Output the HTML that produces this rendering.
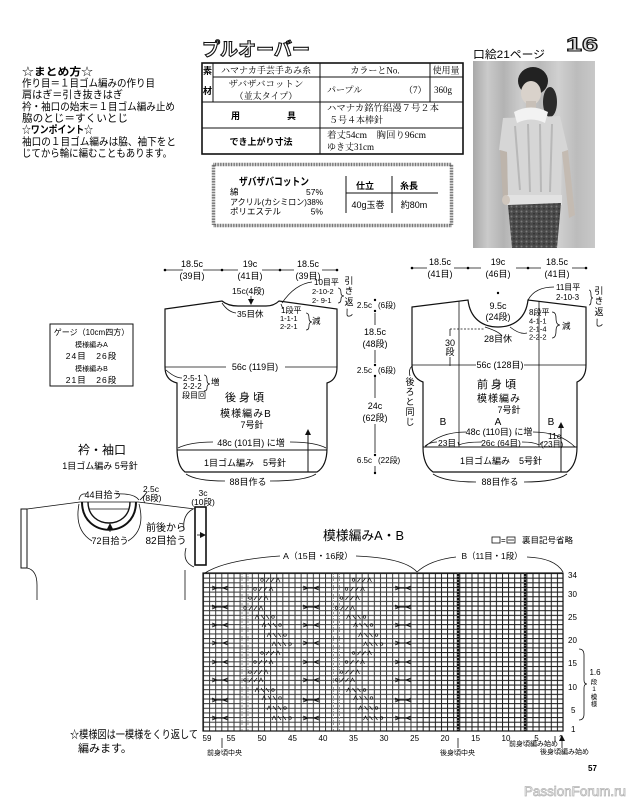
<!DOCTYPE html>
<html><head><meta charset="utf-8"><style>
html,body{margin:0;padding:0;background:#fff;}
svg{display:block;}
text{font-family:"Liberation Sans","Noto Sans CJK JP",sans-serif;}
.m{font-family:"Liberation Serif","Noto Serif CJK SC",serif;}
.b{font-weight:bold;}
</style></head><body>
<svg width="628" height="800" viewBox="0 0 628 800" xmlns="http://www.w3.org/2000/svg">
<defs>
<marker id="ah" markerWidth="6" markerHeight="6" refX="3" refY="3" orient="auto" markerUnits="userSpaceOnUse"><path d="M0,0 L6,3 L0,6 Z" fill="#111"/></marker>
<pattern id="gA" x="203" y="573" width="6.1017" height="4.6471" patternUnits="userSpaceOnUse"><path d="M0.5,0 V4.6471 M0,0.5 H6.1017" stroke="#3a3a3a" stroke-width="1"/></pattern>
<pattern id="gB" x="203" y="573" width="6.1017" height="4.6471" patternUnits="userSpaceOnUse"><path d="M0.5,0 V4.6471 M0,0.5 H6.1017" stroke="#1a1a1a" stroke-width="1"/></pattern>
<linearGradient id="cur" x1="0" y1="0" x2="1" y2="0">
<stop offset="0" stop-color="#a9a9a9"/><stop offset="0.12" stop-color="#cacaca"/><stop offset="0.25" stop-color="#b3b3b3"/><stop offset="0.4" stop-color="#cdcdcd"/><stop offset="0.55" stop-color="#bababa"/><stop offset="0.7" stop-color="#d0d0d0"/><stop offset="0.85" stop-color="#bcbcbc"/><stop offset="1" stop-color="#c8c8c8"/>
</linearGradient>
<pattern id="sk" width="5" height="5" patternUnits="userSpaceOnUse"><rect width="5" height="5" fill="#4a4a4a"/><circle cx="1.5" cy="1.5" r="1" fill="#7a7a7a"/><circle cx="4" cy="3.8" r="0.8" fill="#2a2a2a"/></pattern>
<path id="cx" d="M-8,0H8M-8,-2L-3,0L-8,2M8,-2L3,0L8,2" stroke="#111" stroke-width="0.9" fill="none"/>
<g id="l1" stroke="#111" stroke-width="0.7" fill="none"><circle cx="2" cy="0" r="1.3"/><path d="M6,2L9,-2M11,2L14,-2M16,2L18,-2L20,2"/></g>
<g id="l2" stroke="#111" stroke-width="0.7" fill="none"><path d="M0,2L2,-2L4,2M6,-2L9,2M11,-2L14,2"/><circle cx="18" cy="0" r="1.3"/></g>
</defs>

<!-- top-left notes -->
<g font-size="10.5">
<text x="22" y="75" textLength="71" lengthAdjust="spacingAndGlyphs">☆<tspan class="b">まとめ方</tspan>☆</text>
<text x="22" y="86.5" textLength="133" lengthAdjust="spacingAndGlyphs">作り目＝１目ゴム編みの作り目</text>
<text x="22" y="98" textLength="101" lengthAdjust="spacingAndGlyphs">肩はぎ＝引き抜きはぎ</text>
<text x="22" y="110" textLength="153" lengthAdjust="spacingAndGlyphs">衿・袖口の始末＝１目ゴム編み止め</text>
<text x="22" y="121.5" textLength="106" lengthAdjust="spacingAndGlyphs">脇のとじ＝すくいとじ</text>
<text x="22" y="133" textLength="71" lengthAdjust="spacingAndGlyphs">☆<tspan class="b">ワンポイント</tspan>☆</text>
<text x="22" y="145" textLength="154" lengthAdjust="spacingAndGlyphs">袖口の１目ゴム編みは脇、袖下をと</text>
<text x="22" y="156.5" textLength="150" lengthAdjust="spacingAndGlyphs">じてから輪に編むこともあります。</text>
</g>

<!-- title -->
<text x="202" y="56" font-size="18.5" font-weight="bold" style="fill:#fff" stroke="#111" stroke-width="1.1" textLength="108" lengthAdjust="spacingAndGlyphs">プルオーバー</text>

<!-- material table -->
<g stroke="#111" fill="none">
<rect x="202" y="63" width="261" height="91" stroke-width="1.6"/>
<path d="M213,77H463 M202,102H463 M202,128H463" stroke-width="1"/>
<path d="M213,63V102 M320,63V154 M430,63V102" stroke-width="1"/>
</g>
<g font-size="9" class="m">
<text class="m" x="266" y="73.5" text-anchor="middle" textLength="90" lengthAdjust="spacingAndGlyphs">ハマナカ手芸手あみ糸</text>
<text class="m" x="375" y="73.5" text-anchor="middle">カラーとNo.</text>
<text class="m" x="446" y="73.5" text-anchor="middle">使用量</text>
<text x="207.5" y="74" text-anchor="middle" class="b">素</text>
<text x="207.5" y="94" text-anchor="middle" class="b">材</text>
<text class="m" x="266" y="87" text-anchor="middle" textLength="75" lengthAdjust="spacingAndGlyphs">ザバザバコットン</text>
<text class="m" x="266" y="99" text-anchor="middle">（並太タイプ）</text>
<text class="m" x="327" y="93">パープル</text>
<text class="m" x="404" y="93">（7）</text>
<text class="m" x="434" y="93">360g</text>
<text x="231" y="119" class="b">用</text>
<text x="287" y="119" class="b">具</text>
<text class="m" x="327" y="111" textLength="112" lengthAdjust="spacingAndGlyphs">ハマナカ銘竹絽漫７号２本</text>
<text class="m" x="329" y="123">５号４本棒針</text>
<text x="261" y="145" text-anchor="middle" class="b">でき上がり寸法</text>
<text class="m" x="327" y="138" textLength="99" lengthAdjust="spacingAndGlyphs">着丈54cm　胸回り96cm</text>
<text class="m" x="327" y="150">ゆき丈31cm</text>
</g>

<!-- yarn box -->
<rect x="213.5" y="164.5" width="238" height="61" fill="none" stroke="#555" stroke-width="3.5" stroke-dasharray="0.8 0.8"/>
<text x="239" y="185" font-size="10.5" class="b" textLength="70" lengthAdjust="spacingAndGlyphs">ザバザバコットン</text>
<g font-size="8.5">
<text x="230" y="195">綿</text><text x="323" y="195" text-anchor="end">57%</text>
<text x="230" y="205" textLength="93" lengthAdjust="spacingAndGlyphs">アクリル(カシミロン)38%</text>
<text x="230" y="214.5">ポリエステル</text><text x="323" y="214.5" text-anchor="end">5%</text>
</g>
<path d="M346,176V213 M392,176V213 M346,193H438" stroke="#111" stroke-width="1"/>
<g font-size="9">
<text x="365" y="189" text-anchor="middle" class="b">仕立</text>
<text x="409" y="189" text-anchor="middle" class="b">糸長</text>
<text x="368" y="208" text-anchor="middle">40g玉巻</text>
<text x="414" y="208" text-anchor="middle">約80m</text>
</g>

<!-- photo header -->
<text x="473" y="58" font-size="11" textLength="72" lengthAdjust="spacingAndGlyphs">口絵21ページ</text>
<text x="566" y="51" font-size="19" font-weight="bold" style="fill:#d8d8d8" stroke="#111" stroke-width="1" textLength="32" lengthAdjust="spacingAndGlyphs">16</text>

<!-- photo -->
<rect x="473" y="61" width="122" height="187" fill="url(#cur)"/>
<ellipse cx="550" cy="102" rx="7" ry="15" fill="#2b2b2b"/>
<ellipse cx="533" cy="81" rx="15" ry="14" fill="#222"/>
<ellipse cx="531" cy="93" rx="10" ry="12" fill="#d9d2cb"/>
<rect x="526" y="101" width="10" height="12" fill="#c8c0b8"/>
<path d="M503,118 L560,116 L568,150 L562,152 L561,200 L508,202 L507,152 L499,150 Z" fill="#d6d6d6"/>
<path d="M515,126 L520,190 M528,124 L530,192 M540,124 L541,192 M552,124 L550,192" stroke="#b8b8b8" stroke-width="2" fill="none"/>
<path d="M500,150 L507,152 L508,198 L503,200 Z" fill="#bdb4ab"/>
<path d="M562,152 L568,150 L575,215 L569,218 Z" fill="#c4bbb2"/>
<path d="M514,112 Q531,103 548,112 L545,123 Q531,116 517,123 Z" fill="#f2f2f2"/>
<rect x="507" y="195" width="55" height="10" fill="#e2e2e2"/>
<path d="M508,205 L561,203 L557,248 L512,248 Z" fill="url(#sk)"/>
<ellipse cx="506" cy="200" rx="4" ry="5" fill="#cfc6bd"/>

<!-- back schematic -->
<g stroke="#111" fill="none" stroke-width="1.2">
<path d="M165,309 L222,301 Q228,306 238,306 L266,306 Q274,306 279,301 L337,309 L337,367 Q337,380 327,383 L327,448 Q327,466 317,472 L185,472 Q177,466 177,448 L177,383 Q165,380 165,367 Z"/>
<path d="M177,450 H327" stroke-width="1"/>
</g>
<g stroke="#111" fill="none" stroke-width="0.8">
<path d="M165,270 H183 M203,270 H238 M262,270 H294 M322,270 H337"/>
<path d="M165,367 H226 M285,367 H337"/>
<path d="M178,448 Q190,442 213,442 M290,442 Q315,442 326,448"/>
<path d="M186,474 Q196,481 225,481 M270,481 Q305,481 316,474"/>
<path d="M222,303 Q228,312 236,313"/>
<path d="M282,303 Q295,284 312,282"/>
<path d="M281,304 L283,309"/>
<path d="M166,370 Q175,378 182,378"/>
<path d="M375,300 V301 M375,313 V325 M375,350 V363 M375,377 V398 M375,424 V453 M375,466 V473"/>
<path d="M338,288 Q341,288 341,293 Q341,296 344,296 Q341,296 341,299 Q341,303 338,303"/>
<path d="M306,313 Q309,313 309,318 Q309,322 312,322 Q309,322 309,326 Q309,330 306,330"/>
<path d="M204,375 Q207,375 207,380 Q207,384 210,384 Q207,384 207,388 Q207,391 204,391"/>
</g>
<circle cx="165" cy="270" r="1.3"/><circle cx="222" cy="270" r="1.3"/><circle cx="280" cy="270" r="1.3"/><circle cx="337" cy="270" r="1.3"/>
<circle cx="375" cy="300" r="1.2"/><circle cx="375" cy="311" r="1.2"/><circle cx="375" cy="365" r="1.2"/><circle cx="375" cy="376" r="1.2"/><circle cx="375" cy="455" r="1.2"/><circle cx="375" cy="473" r="1.2"/>
<path d="M251,296 V302" stroke="#111" stroke-width="0.8" marker-end="url(#ah)"/>
<path d="M308,472 V432" stroke="#111" stroke-width="1" marker-end="url(#ah)"/>
<g font-size="9">
<text x="192" y="267" text-anchor="middle">18.5c</text><text x="192" y="279" text-anchor="middle">(39目)</text>
<text x="250" y="267" text-anchor="middle">19c</text><text x="250" y="279" text-anchor="middle">(41目)</text>
<text x="308" y="267" text-anchor="middle">18.5c</text><text x="308" y="279" text-anchor="middle">(39目)</text>
<text x="232" y="294" font-size="8.5">15c(4段)</text>
<text x="237" y="317" font-size="8.5">35目休</text>
<text x="314" y="285" font-size="8">10目平</text>
<text x="312" y="294" font-size="7.5">2-10-2</text>
<text x="312" y="303" font-size="7.5">2- 9-1</text>
<text x="349" y="284" font-size="9" text-anchor="middle">引</text>
<text x="349" y="294" font-size="9" text-anchor="middle">き</text>
<text x="349" y="305" font-size="9" text-anchor="middle">返</text>
<text x="349" y="316" font-size="9" text-anchor="middle">し</text>
<text x="281" y="313" font-size="8">1段平</text>
<text x="280" y="321" font-size="7.5">1-1-1</text>
<text x="280" y="329" font-size="7.5">2-2-1</text>
<text x="312" y="324" font-size="8.5">減</text>
<text x="255" y="370" text-anchor="middle">56c (119目)</text>
<text x="183" y="381" font-size="8">2-5-1</text>
<text x="183" y="389" font-size="8">2-2-2</text>
<text x="182" y="398" font-size="8">段目回</text>
<text x="211" y="385" font-size="8.5">増</text>
<text x="246" y="401" font-size="11" text-anchor="middle" letter-spacing="3">後身頃</text>
<text x="246" y="417" font-size="10" text-anchor="middle" letter-spacing="1">模様編みB</text>
<text x="252" y="428" text-anchor="middle">7号針</text>
<text x="251" y="446" text-anchor="middle">48c (101目) に増</text>
<text x="245" y="466" text-anchor="middle">1目ゴム編み　5号針</text>
<text x="248" y="485" text-anchor="middle">88目作る</text>
<text x="372" y="308" text-anchor="end" font-size="8">2.5c</text><text x="378" y="308" font-size="8">(6段)</text>
<text x="375" y="335" text-anchor="middle">18.5c</text><text x="375" y="347" text-anchor="middle">(48段)</text>
<text x="372" y="373" text-anchor="end" font-size="8">2.5c</text><text x="378" y="373" font-size="8">(6段)</text>
<text x="375" y="409" text-anchor="middle">24c</text><text x="375" y="421" text-anchor="middle">(62段)</text>
<text x="372" y="463" text-anchor="end" font-size="8">6.5c</text><text x="378" y="463" font-size="8">(22段)</text>
</g>

<!-- front schematic -->
<g stroke="#111" fill="none" stroke-width="1.2">
<path d="M412,307 L468,300 C470,318 482,327 498,327 C514,327 526,318 528,300 L586,307 L586,365 Q586,378 577,382 L577,447 Q577,465 567,472 L433,472 Q423,465 423,447 L423,382 Q412,378 412,365 Z"/>
<path d="M423,447 H577" stroke-width="1"/>
</g>
<g stroke="#111" fill="none" stroke-width="0.8">
<path d="M459,301 V447 M539,301 V447"/>
<path d="M450,329 H485" stroke-dasharray="2 1.5"/>
<path d="M450,329 V336 M450,357 V366"/>
<path d="M412,268 H427 M454,268 H481 M516,268 H541 M572,268 H586"/>
<path d="M412,365 H476 M524,365 H586"/>
<path d="M425,447 Q440,432 466,432 M533,432 Q560,432 575,447"/>
<path d="M425,446 Q430,442 437,442 M458,442 L459,446 M459,445 Q465,442 482,442 M522,442 Q534,442 539,445 M540,445 Q541,442 543,442"/>
<path d="M433,474 Q445,482 476,482 M524,482 Q556,482 567,474"/>
<path d="M528,300 Q535,287 554,287"/>
<path d="M485,327 Q500,332 502,336 M510,327 Q520,335 527,333"/>
<path d="M412,366 Q408,370 410,376"/>
<path d="M552,312 Q556,312 556,318 Q556,325 560,325 Q556,325 556,331 Q556,338 552,338"/>
<path d="M589,290 Q591,290 591,295 Q591,298 593,298 Q591,298 591,301 Q591,305 589,305"/>
</g>
<circle cx="412" cy="268" r="1.3"/><circle cx="468" cy="268" r="1.3"/><circle cx="528" cy="268" r="1.3"/><circle cx="586" cy="268" r="1.3"/>
<circle cx="498" cy="293" r="1.2"/>
<path d="M561,472 V425" stroke="#111" stroke-width="1" marker-end="url(#ah)"/>
<g font-size="9">
<text x="440" y="265" text-anchor="middle">18.5c</text><text x="440" y="277" text-anchor="middle">(41目)</text>
<text x="498" y="265" text-anchor="middle">19c</text><text x="498" y="277" text-anchor="middle">(46目)</text>
<text x="557" y="265" text-anchor="middle">18.5c</text><text x="557" y="277" text-anchor="middle">(41目)</text>
<text x="498" y="309" text-anchor="middle">9.5c</text><text x="498" y="320" text-anchor="middle">(24段)</text>
<text x="498" y="342" text-anchor="middle">28目休</text>
<text x="450" y="346" text-anchor="middle">30</text><text x="450" y="355" text-anchor="middle">段</text>
<text x="556" y="290" font-size="8">11目平</text>
<text x="556" y="300" font-size="8">2-10-3</text>
<text x="599" y="294" font-size="9" text-anchor="middle">引</text>
<text x="599" y="304" font-size="9" text-anchor="middle">き</text>
<text x="599" y="315" font-size="9" text-anchor="middle">返</text>
<text x="599" y="326" font-size="9" text-anchor="middle">し</text>
<text x="529" y="315" font-size="8">8段平</text>
<text x="529" y="323.5" font-size="7.5">4-1-1</text>
<text x="529" y="331.5" font-size="7.5">2-1-4</text>
<text x="529" y="339.5" font-size="7.5">2-2-2</text>
<text x="562" y="329" font-size="8.5">減</text>
<text x="500" y="368" text-anchor="middle">56c (128目)</text>
<text x="410" y="385" text-anchor="middle">後</text>
<text x="410" y="395" text-anchor="middle">ろ</text>
<text x="410" y="405" text-anchor="middle">と</text>
<text x="410" y="415" text-anchor="middle">同</text>
<text x="410" y="425" text-anchor="middle">じ</text>
<text x="498" y="388" font-size="11" text-anchor="middle" letter-spacing="3">前身頃</text>
<text x="499" y="402" font-size="10" text-anchor="middle" letter-spacing="1">模様編み</text>
<text x="509" y="413" text-anchor="middle">7号針</text>
<text x="443" y="425" font-size="10" text-anchor="middle">B</text>
<text x="498" y="425" font-size="10" text-anchor="middle">A</text>
<text x="551" y="425" font-size="10" text-anchor="middle">B</text>
<text x="499" y="435" text-anchor="middle">48c (110目) に増</text>
<text x="447" y="446" text-anchor="middle" font-size="8.5">23目</text>
<text x="501" y="446" text-anchor="middle" font-size="8.5">26c (64目)</text>
<text x="548" y="439" font-size="8.5">11c</text>
<text x="541" y="447" font-size="8">(23目)</text>
<text x="501" y="464" text-anchor="middle">1目ゴム編み　5号針</text>
<text x="500" y="485" text-anchor="middle">88目作る</text>
</g>

<!-- gauge box -->
<rect x="50" y="324" width="83" height="62" fill="none" stroke="#111" stroke-width="1"/>
<g text-anchor="middle">
<text x="91.5" y="335" font-size="8">ゲージ（10cm四方）</text>
<text x="91.5" y="347" font-size="7">模様編みA</text>
<text x="91.5" y="359" font-size="8.5" letter-spacing="1">24目　26段</text>
<text x="91.5" y="371" font-size="7">模様編みB</text>
<text x="91.5" y="383" font-size="8.5" letter-spacing="1">21目　26段</text>
</g>

<!-- collar & cuff -->
<text x="102" y="454" font-size="12" text-anchor="middle">衿・袖口</text>
<text x="100" y="469" font-size="9" text-anchor="middle">1目ゴム編み 5号針</text>
<g stroke="#111" fill="none">
<rect x="21" y="509" width="6" height="59" stroke-width="1"/>
<rect x="195" y="507" width="11" height="58" stroke-width="1.6"/>
<path d="M27,509 L80,502 L138,502 L195,509" stroke-width="0.8"/>
<path d="M82,502 C82,539 136,539 136,502" stroke-width="2"/>
<path d="M88,502 C88,530 130,530 130,502" stroke-width="1.4"/>
<path d="M89,509 H129" stroke-width="0.8"/>
<path d="M79,504 Q74,530 92,541 M128,541 Q146,530 139,504" stroke-width="0.8"/>
<path d="M79,500 Q80,493 86,494 M116,494 Q134,493 139,500" stroke-width="0.8"/>
<path d="M140,500 Q145,495 147,492" stroke-width="0.8"/>
<path d="M193,509 Q182,515 184,530 M186,548 Q182,562 194,567" stroke-width="0.8"/>
<path d="M27,568 Q37,570 37,585 V600 M185,570 V600" stroke-width="0.8"/>
</g>
<path d="M110,532 V526" stroke="#111" stroke-width="0.8" marker-end="url(#ah)"/>
<path d="M197,535 H203" stroke="#111" stroke-width="0.8" marker-end="url(#ah)"/>
<g font-size="9">
<text x="103" y="498" text-anchor="middle">44目拾う</text>
<text x="151" y="492" text-anchor="middle" font-size="8.5">2.5c</text>
<text x="152" y="501" text-anchor="middle" font-size="8.5">(8段)</text>
<text x="203" y="496" text-anchor="middle" font-size="8.5">3c</text>
<text x="203" y="505" text-anchor="middle" font-size="8.5">(10段)</text>
<text x="110" y="544" text-anchor="middle">72目拾う</text>
<text x="166" y="531" text-anchor="middle" font-size="10">前後から</text>
<text x="166" y="544" text-anchor="middle" font-size="10">82目拾う</text>
</g>

<!-- chart header -->
<text x="323" y="540" font-size="13" textLength="81" lengthAdjust="spacingAndGlyphs">模様編みA・B</text>
<rect x="492" y="537" width="8" height="6" fill="none" stroke="#111" stroke-width="0.8"/>
<text x="501" y="543" font-size="8">=</text>
<rect x="507" y="537" width="8" height="6" fill="none" stroke="#111" stroke-width="0.8"/>
<path d="M508,540 H514" stroke="#111" stroke-width="0.8"/>
<text x="522" y="543" font-size="8" textLength="51" lengthAdjust="spacingAndGlyphs">裏目記号省略</text>
<text x="318" y="559" font-size="8.5" text-anchor="middle" textLength="70" lengthAdjust="spacingAndGlyphs">A（15目・16段）</text>
<text x="492" y="559" font-size="8.5" text-anchor="middle" textLength="61" lengthAdjust="spacingAndGlyphs">B（11目・1段）</text>
<path d="M205,573 Q225,560 280,556 M356,556 Q405,558 417,572 M417,572 Q430,560 456,557 M527,557 Q555,558 563,572" stroke="#111" stroke-width="0.8" fill="none"/>

<!-- chart grid -->
<rect x="203" y="573" width="213.6" height="158" fill="url(#gA)"/>
<rect x="416.6" y="573" width="146.4" height="158" fill="url(#gB)"/>
<path d="M242,573 V731 M248,573 V731 M333.5,573 V731 M339.5,573 V731" stroke="#999" stroke-width="1" stroke-dasharray="2 1"/>
<path d="M458,573 V731 M525,573 V731" stroke="#111" stroke-width="2.4"/>
<path d="M458,573 V731 M525,573 V731" stroke="#fff" stroke-width="0.8" stroke-dasharray="1 2"/>
<rect x="203" y="573" width="360" height="158" fill="none" stroke="#111" stroke-width="1.2"/>
<g>
<use href="#cx" x="220" y="588"/><use href="#cx" x="311" y="588"/><use href="#cx" x="403" y="588"/>
<use href="#cx" x="220" y="607"/><use href="#cx" x="311" y="607"/><use href="#cx" x="403" y="607"/>
<use href="#cx" x="220" y="625"/><use href="#cx" x="311" y="625"/><use href="#cx" x="403" y="625"/>
<use href="#cx" x="220" y="643"/><use href="#cx" x="311" y="643"/><use href="#cx" x="403" y="643"/>
<use href="#cx" x="220" y="662"/><use href="#cx" x="311" y="662"/><use href="#cx" x="403" y="662"/>
<use href="#cx" x="220" y="680"/><use href="#cx" x="311" y="680"/><use href="#cx" x="403" y="680"/>
<use href="#cx" x="220" y="700"/><use href="#cx" x="311" y="700"/><use href="#cx" x="403" y="700"/>
<use href="#cx" x="220" y="718"/><use href="#cx" x="311" y="718"/><use href="#cx" x="403" y="718"/>
</g>
<g>
<use href="#l1" x="260" y="580"/><use href="#l1" x="253" y="589"/><use href="#l1" x="248" y="598"/><use href="#l1" x="243" y="608"/>
<use href="#l2" x="255" y="617"/><use href="#l2" x="262" y="625"/><use href="#l2" x="267" y="635"/><use href="#l2" x="272" y="644"/>
<use href="#l1" x="260" y="653"/><use href="#l1" x="253" y="662"/><use href="#l1" x="248" y="672"/><use href="#l1" x="243" y="680"/>
<use href="#l2" x="255" y="690"/><use href="#l2" x="262" y="698"/><use href="#l2" x="267" y="708"/><use href="#l2" x="272" y="718"/>
<use href="#l1" x="351.5" y="580"/><use href="#l1" x="344.5" y="589"/><use href="#l1" x="339.5" y="598"/><use href="#l1" x="334.5" y="608"/>
<use href="#l2" x="346.5" y="617"/><use href="#l2" x="353.5" y="625"/><use href="#l2" x="358.5" y="635"/><use href="#l2" x="363.5" y="644"/>
<use href="#l1" x="351.5" y="653"/><use href="#l1" x="344.5" y="662"/><use href="#l1" x="339.5" y="672"/><use href="#l1" x="334.5" y="680"/>
<use href="#l2" x="346.5" y="690"/><use href="#l2" x="353.5" y="698"/><use href="#l2" x="358.5" y="708"/><use href="#l2" x="363.5" y="718"/>
</g>

<!-- chart numbers -->
<g font-size="8">
<text x="568" y="578">34</text><text x="568" y="597">30</text><text x="568" y="620">25</text><text x="568" y="643">20</text>
<text x="568" y="666">15</text><text x="568" y="690">10</text><text x="571" y="713">5</text><text x="571" y="732">1</text>
</g>
<g font-size="8" text-anchor="middle">
<text x="207" y="741">59</text><text x="231" y="741">55</text><text x="262" y="741">50</text><text x="292.5" y="741">45</text>
<text x="323" y="741">40</text><text x="353.5" y="741">35</text><text x="384" y="741">30</text><text x="414.6" y="741">25</text>
<text x="445" y="741">20</text><text x="475.6" y="741">15</text><text x="506" y="741">10</text><text x="536.5" y="741">5</text><text x="561" y="741">1</text>
</g>
<path d="M579,649 Q584,649 584,655 V680 Q584,684 587,684 Q584,684 584,688 V714 Q584,720 579,720" stroke="#111" stroke-width="0.8" fill="none"/>
<g font-size="8" text-anchor="middle">
<text x="595" y="675">1.6</text><text x="594" y="684" font-size="6.5">段</text><text x="594" y="691" font-size="6.5">1</text>
<text x="594" y="699" font-size="6.5">模</text><text x="594" y="706" font-size="6.5">様</text>
</g>
<path d="M222,748 V738 M458,748 V738 M555,742 V736 M562,748 V738" stroke="#111" stroke-width="0.8" marker-end="url(#ah)"/>
<g font-size="7">
<text x="207" y="755">前身頃中央</text>
<text x="440" y="755">後身頃中央</text>
<text x="509" y="746">前身頃編み始め</text>
<text x="540" y="754">後身頃編み始め</text>
</g>

<!-- footer -->
<text x="70" y="738" font-size="11" textLength="128" lengthAdjust="spacingAndGlyphs">☆模様図は一模様をくり返して</text>
<text x="78" y="752" font-size="11">編みます。</text>
<text x="588" y="771" font-size="8" class="b">57</text>
<text x="524" y="796" font-size="14" style="fill:#fff" stroke="#b5b5b5" stroke-width="0.8" textLength="102" lengthAdjust="spacingAndGlyphs">PassionForum.ru</text>
</svg>
</body></html>
